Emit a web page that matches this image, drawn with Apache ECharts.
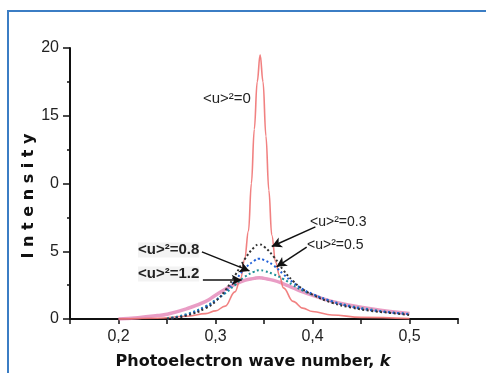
<!DOCTYPE html>
<html>
<head>
<meta charset="utf-8">
<script src="https://cdn.jsdelivr.net/npm/echarts@6/dist/echarts.min.js"></script>
<style>
  html, body { margin: 0; padding: 0; background: #fff; }
  #chart { width: 486px; height: 373px; }
</style>
</head>
<body>
<div id="chart"></div>
<script>
// wave number samples (k) and intensities
var kPeak = [0.20, 0.24, 0.27, 0.29, 0.30, 0.31, 0.32, 0.326, 0.330, 0.334, 0.337, 0.340, 0.343, 0.346, 0.349, 0.352, 0.355, 0.358, 0.362, 0.366, 0.370, 0.38, 0.39, 0.40, 0.42, 0.45, 0.50];
var intensityU0 = [0, 0.05, 0.2, 0.4, 0.6, 0.95, 2.0, 3.0, 4.4, 6.5, 10, 14, 17.5, 19.5, 17.5, 13.5, 9.5, 6.2, 4.2, 3.2, 2.3, 1.3, 0.8, 0.55, 0.3, 0.12, 0.03];

var kBroad = [0.20, 0.22, 0.24, 0.25, 0.27, 0.29, 0.30, 0.31, 0.32, 0.33, 0.34, 0.345, 0.35, 0.36, 0.37, 0.38, 0.39, 0.40, 0.42, 0.44, 0.46, 0.48, 0.50];
var intensityU03 = [null, null, null, 0, 0.25, 0.8, 1.3, 2.1, 3.2, 4.4, 5.3, 5.5, 5.35, 4.6, 3.6, 2.8, 2.2, 1.8, 1.2, 0.85, 0.6, 0.45, 0.3];
var intensityU05 = [null, null, null, 0, 0.3, 0.9, 1.35, 2.0, 2.8, 3.7, 4.3, 4.45, 4.35, 3.95, 3.3, 2.7, 2.2, 1.85, 1.3, 0.9, 0.65, 0.48, 0.35];
var intensityU08 = [null, null, null, 0.05, 0.35, 0.95, 1.4, 1.9, 2.5, 3.1, 3.5, 3.6, 3.55, 3.3, 2.95, 2.5, 2.1, 1.8, 1.3, 0.95, 0.7, 0.5, 0.38];
var intensityU12 = [0, 0.1, 0.25, 0.35, 0.75, 1.3, 1.75, 2.2, 2.55, 2.85, 3.0, 3.05, 3.0, 2.85, 2.6, 2.3, 2.0, 1.75, 1.3, 1.0, 0.75, 0.55, 0.4];

// tick labels as printed (the 10 tick reads "0" in the original)
var xTickLabels = ['0,2', '0,3', '0,4', '0,5'];
var yTickLabels = ['0', '5', '0', '15', '20'];

// arrow start/end points in data units [k, intensity]
var arrows = [
    [[0.403, 6.8], [0.358, 5.35]],
    [[0.394, 5.3], [0.363, 3.85]],
    [[0.286, 4.95], [0.335, 3.55]],
    [[0.287, 2.88], [0.327, 2.88]]
];

function pairs(xs, ys) {
    var out = [];
    for (var i = 0; i < xs.length; i++) {
        out.push([xs[i], ys[i]]);
    }
    return out;
}

var chart = echarts.init(document.getElementById('chart'));

var labelFont = 'Liberation Sans, Arial, sans-serif';
var titleFont = 'DejaVu Sans, Verdana, sans-serif';

var option = {
    animation: false,
    backgroundColor: '#fff',
    grid: { left: 70, right: 28, top: 48, bottom: 54 },
    xAxis: {
        type: 'value',
        min: 0.15,
        max: 0.55,
        interval: 0.05,
        axisLine: { lineStyle: { color: '#111', width: 2 } },
        axisTick: { length: 5, lineStyle: { color: '#111', width: 1.5 } },
        splitLine: { show: false },
        axisLabel: {
            margin: 10,
            fontFamily: labelFont,
            fontSize: 16,
            color: '#222',
            formatter: function (v) {
                var i = Math.round(v * 100);
                if (i % 10 !== 0) return '';
                return xTickLabels[(i - 20) / 10] || '';
            }
        }
    },
    yAxis: {
        type: 'value',
        min: 0,
        max: 20,
        interval: 5,
        axisLine: { show: true, lineStyle: { color: '#111', width: 2 } },
        axisTick: { show: true, length: 7, lineStyle: { color: '#111', width: 1.5 } },
        minorTick: { show: true, splitNumber: 2, length: 3, lineStyle: { color: '#111', width: 1.5 } },
        splitLine: { show: false },
        axisLabel: {
            margin: 11,
            fontFamily: labelFont,
            fontSize: 16,
            color: '#222',
            formatter: function (v) {
                return yTickLabels[Math.round(v / 5)];
            }
        }
    },
    graphic: [
        {
            type: 'rect',
            shape: { x: 8, y: 11, width: 520, height: 420 },
            style: { fill: 'none', stroke: '#3b7dc4', lineWidth: 2 },
            silent: true
        },
        {
            type: 'text',
            x: 29, y: 196,
            rotation: Math.PI / 2,
            style: {
                text: 'I n t e n s i t y',
                fontFamily: titleFont, fontWeight: 'bold', fontSize: 16,
                fill: '#111', align: 'center', verticalAlign: 'middle'
            }
        },
        {
            type: 'text',
            x: 253, y: 362,
            style: {
                text: 'Photoelectron wave number, {k|k}',
                fontFamily: titleFont, fontWeight: 'bold', fontSize: 16,
                fill: '#111', align: 'center', verticalAlign: 'middle',
                rich: { k: { fontFamily: titleFont, fontWeight: 'bold', fontStyle: 'italic', fontSize: 16, fill: '#111' } }
            }
        },
        {
            type: 'text', x: 203, y: 99,
            style: { text: '<u>²=0', fontFamily: labelFont, fontSize: 15, fill: '#222', verticalAlign: 'middle' }
        },
        {
            type: 'text', x: 310, y: 222,
            style: { text: '<u>²=0.3', fontFamily: labelFont, fontSize: 14, fill: '#222', verticalAlign: 'middle' }
        },
        {
            type: 'text', x: 307, y: 245,
            style: { text: '<u>²=0.5', fontFamily: labelFont, fontSize: 14, fill: '#222', verticalAlign: 'middle' }
        },
        {
            type: 'text', x: 138, y: 250,
            style: { text: '<u>²=0.8', fontFamily: labelFont, fontWeight: 'bold', fontSize: 15, fill: '#222', verticalAlign: 'middle', backgroundColor: '#f3f3f3' }
        },
        {
            type: 'text', x: 138, y: 274,
            style: { text: '<u>²=1.2', fontFamily: labelFont, fontWeight: 'bold', fontSize: 15, fill: '#222', verticalAlign: 'middle', backgroundColor: '#f3f3f3' }
        }
    ],
    series: [
        {
            name: '<u>²=1.2',
            type: 'line',
            data: pairs(kBroad, intensityU12),
            smooth: 0.5,
            showSymbol: false,
            lineStyle: { color: '#e27cb2', width: 3.5, opacity: 0.75 }
        },
        {
            name: '<u>²=0',
            type: 'line',
            data: pairs(kPeak, intensityU0),
            smooth: 0.4,
            smoothMonotone: 'x',
            showSymbol: false,
            lineStyle: { color: '#f07373', width: 1.6, opacity: 0.9 }
        },
        {
            name: '<u>²=0.8',
            type: 'line',
            data: pairs(kBroad, intensityU08),
            smooth: 0.5,
            showSymbol: false,
            lineStyle: { color: '#1f8f96', width: 2, type: [2, 2.5] }
        },
        {
            name: '<u>²=0.5',
            type: 'line',
            data: pairs(kBroad, intensityU05),
            smooth: 0.5,
            showSymbol: false,
            lineStyle: { color: '#2060d8', width: 2, type: [2, 2.5] }
        },
        {
            name: '<u>²=0.3',
            type: 'line',
            data: pairs(kBroad, intensityU03),
            smooth: 0.5,
            showSymbol: false,
            lineStyle: { color: '#333', width: 2, type: [2, 2.5] }
        },
        {
            name: 'arrows',
            type: 'line',
            data: [],
            markLine: {
                silent: true,
                animation: false,
                symbol: ['none', 'arrow'],
                symbolSize: [8, 10],
                label: { show: false },
                lineStyle: { color: '#111', width: 1.5, type: 'solid' },
                data: arrows.map(function (a) {
                    return [{ coord: a[0] }, { coord: a[1] }];
                })
            }
        }
    ]
};

chart.setOption(option);
</script>
</body>
</html>
